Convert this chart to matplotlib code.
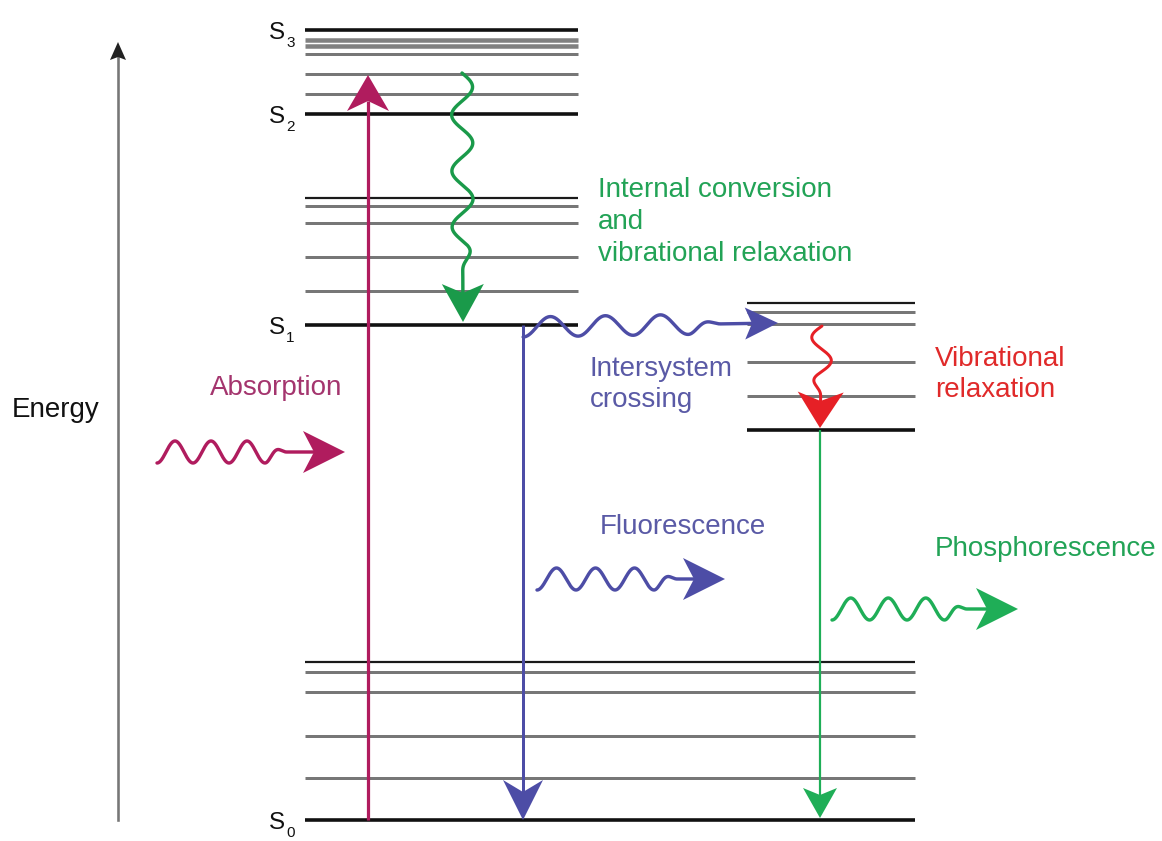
import numpy as np
import matplotlib
matplotlib.use("Agg")
import matplotlib.pyplot as plt
from matplotlib.patches import Polygon

plt.rcParams["font.family"] = ["Liberation Sans", "DejaVu Sans"]

# --- diagram data (vertical position in picture units, 0 = top) ---
s_upper = [30, 40, 46, 54, 74, 94, 114]      # S3 / S2 manifold
s_first = [198, 206, 223, 257, 291, 325]     # S1 manifold
t_first = [303, 312, 324, 362, 396, 430]     # T1 manifold
s_ground = [662, 672, 692, 736, 778, 820]    # S0 manifold
main_levels = [30, 114, 325, 430, 820]       # drawn thick / black

state_names = ["S", "S", "S", "S"]
state_subs = ["3", "2", "1", "0"]
state_energy = [30, 114, 325, 820]

# transitions: (x_start, y_start, x_end, y_end)
absorption = (368, 820, 368, 75)
fluorescence = (523, 325, 523, 820)
phosphorescence = (820, 430, 820, 818)
internal_conv = (462, 73, 463, 322)
isc = (523, 327, 778, 323)
vib_relax = (822, 326, 820, 428)

# emitted / absorbed photons
photon_start_x = [157, 537, 832]
photon_end_x = [345, 725, 1018]
photon_y = [452, 579, 609]
photon_period = [36, 39, 37.5]

labels = ["Absorption", "Internal conversion\nand\nvibrational relaxation",
          "Intersystem\ncrossing", "Vibrational\nrelaxation",
          "Fluorescence", "Phosphorescence"]

C_ABS = "#b01c5e"
C_IC = "#1a9a4a"
C_BLUE = "#4d4da6"
C_RED = "#e62026"
C_PHOS = "#1fae57"
PX = 0.72  # points per pixel at dpi 100


def head(ax, tip, d, length, half, notch, color):
    tip = np.array(tip, float)
    d = np.array(d, float) / np.hypot(*d)
    n = np.array([-d[1], d[0]])
    pts = [tip, tip - length * d + half * n, tip - (length - notch) * d,
           tip - length * d - half * n]
    ax.add_patch(Polygon(pts, closed=True, color=color, lw=0, zorder=5))
    return tip - (length - notch) * d


def wavy(ax, p0, p1, per, nwav, amp, phase, color, lw, hl, hw, notch):
    p0, p1 = np.array(p0, float), np.array(p1, float)
    d = p1 - p0
    u = d / np.hypot(*d)
    nrm = np.array([-u[1], u[0]])
    end = head(ax, p1, u, hl, hw, notch, color)
    Le = np.dot(end - p0, u)
    s = np.linspace(0, Le, 800)
    Lw = per * nwav
    t = np.clip((s - Lw) / (0.6 * per), 0, 1)
    taper = 1 - t ** 2 * (3 - 2 * t)
    off = amp * np.sin(2 * np.pi * s / per + phase) * taper
    pts = p0[None, :] + s[:, None] * u[None, :] + off[:, None] * nrm[None, :]
    ax.plot(pts[:, 0], pts[:, 1], color=color, lw=lw * PX,
            solid_capstyle="round", zorder=4)


def straight(ax, t, color, lw, hl, hw, notch):
    x0, y0, x1, y1 = t
    end = head(ax, (x1, y1), (x1 - x0, y1 - y0), hl, hw, notch, color)
    ax.plot([x0, end[0]], [y0, end[1]], color=color, lw=lw * PX,
            solid_capstyle="butt", zorder=4)


fig = plt.figure(figsize=(11.62, 8.41), dpi=100)
ax = fig.add_axes([0, 0, 1, 1])
ax.set_xlim(0, 1162)
ax.set_ylim(841, 0)
ax.axis("off")


def levels(ys, x0, x1):
    for i, y in enumerate(ys):
        if y in main_levels:
            ax.hlines(y, x0, x1, color="#111111", lw=3.6 * PX, zorder=2)
        elif i == 0:
            ax.hlines(y, x0, x1, color="#1a1a1a", lw=2.2 * PX, zorder=2)
        elif ys is s_upper and i in (1, 2):
            ax.hlines(y, x0, x1, color="#808080", lw=4.5 * PX, zorder=2)
        else:
            ax.hlines(y, x0, x1, color="#777777", lw=3.0 * PX, zorder=2)


levels(s_upper, 305, 578)
levels(s_first, 305, 578)
levels(t_first, 747, 915)
levels(s_ground, 305, 915)

for nm, sub, y in zip(state_names, state_subs, state_energy):
    ax.text(285, y + 3, nm, fontsize=17.5, ha="right", va="center", color="#111111")
    ax.text(286, y + 13, sub, fontsize=11, ha="left", va="center", color="#111111")

# energy axis
ax.plot([118, 118], [820, 56], color="#777777", lw=2.6 * PX)
head(ax, (118, 42), (0, -1), 18, 8, 3, "#222222")
ax.text(12, 410, "Energy", fontsize=20, ha="left", va="center", color="#111111")

# vertical transitions
straight(ax, absorption, C_ABS, 3.2, 36, 21, 10)
straight(ax, fluorescence, C_BLUE, 3.0, 40, 20, 12)
straight(ax, phosphorescence, C_PHOS, 2.2, 30, 17, 7)

# non-radiative wavy transitions
x0, y0, x1, y1 = internal_conv
wavy(ax, (x0, y0), (x1, y1), 56, 3, -10.5, 0, C_IC, 3.4, 38, 21, 9)
x0, y0, x1, y1 = isc
wavy(ax, (x0, y0), (x1, y1), 55, 3, 10, np.pi / 2, C_BLUE, 3.4, 33, 16, 7)
x0, y0, x1, y1 = vib_relax
wavy(ax, (x0, y0), (x1, y1), 46, 1, 10, 0, C_RED, 3.0, 36, 23, 9)

# photons
ph_cols = [C_ABS, C_BLUE, C_PHOS]
for xs, xe, y, per, c in zip(photon_start_x, photon_end_x, photon_y,
                             photon_period, ph_cols):
    wavy(ax, (xs, y), (xe, y), per, 3, 11, np.pi / 2, c, 3.4, 42, 21, 11)

fs = 20
ax.text(210, 388, labels[0], fontsize=fs, color="#a4356e", va="center")
ax.text(598, 222, labels[1], fontsize=fs, color="#22a356", va="center",
        linespacing=1.3)
ax.text(590, 384, labels[2], fontsize=fs, color="#5a5aa6", va="center",
        linespacing=1.25)
ax.text(935, 374, labels[3], fontsize=fs, color="#e02a2a", va="center",
        linespacing=1.25)
ax.text(600, 527, labels[4], fontsize=fs, color="#5a5aa6", va="center")
ax.text(935, 549, labels[5], fontsize=fs, color="#22a356", va="center")

fig.savefig("out.png", dpi=100)
